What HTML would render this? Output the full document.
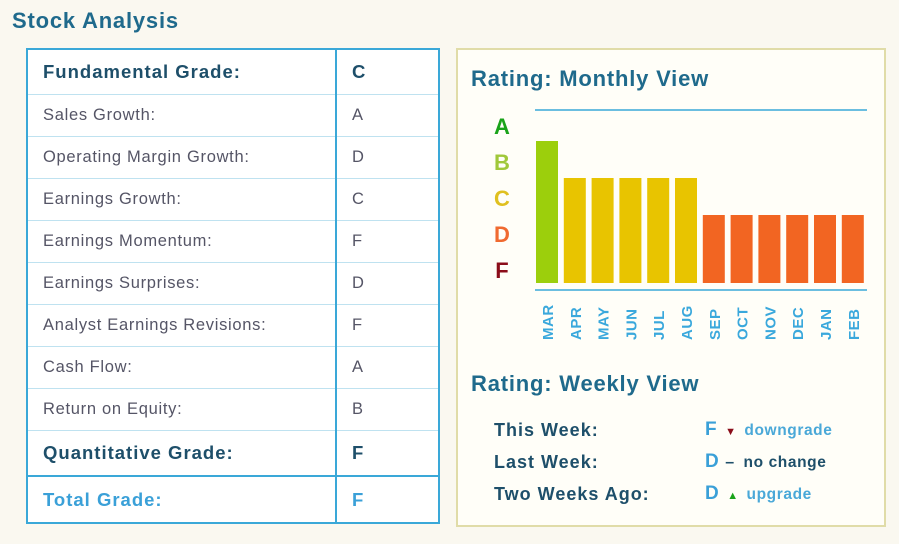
<!DOCTYPE html>
<html><head><meta charset="utf-8"><style>
body{margin:0;width:899px;height:544px;background:#faf8f0;font-family:"Liberation Sans",sans-serif;position:relative;overflow:hidden}
.abs{position:absolute}
#title{left:12px;top:8px;font-size:22px;font-weight:bold;color:#1f6a8c;letter-spacing:0.8px}
table{position:absolute;left:26px;top:48px;width:414px;border-collapse:collapse;background:#fff;border:2px solid #3aa8d8}
td{border-top:1px solid #bfe2f0;padding:0 0 0 15px;font-size:16.5px;color:#556;height:41px;letter-spacing:0.7px}
td.g{border-left:2px solid #3aa8d8;width:86px;padding-left:15px}
tr.b td{font-weight:bold;color:#1e4f6a;font-size:18.5px;height:44px;letter-spacing:1px}
tr.t td{font-weight:bold;color:#3aa0d8;font-size:18.5px;height:45px;border-top:2px solid #3aa8d8;letter-spacing:1px}
#panel{left:456px;top:48px;width:426px;height:475px;border:2px solid #e0dca8;background:#fffef8}
.h2{font-size:22px;font-weight:bold;color:#1f6a8c;letter-spacing:0.8px}
.wl{font-size:18px;font-weight:bold;color:#1e4f6a;letter-spacing:1px}
.wg{font-size:19px;font-weight:bold;color:#3aa0d8}
.wt{font-size:15.5px;font-weight:bold;letter-spacing:0.6px}
</style></head><body>
<div id="title" class="abs">Stock Analysis</div>
<table>
<tr class="b"><td>Fundamental Grade:</td><td class="g">C</td></tr>
<tr><td>Sales Growth:</td><td class="g">A</td></tr>
<tr><td>Operating Margin Growth:</td><td class="g">D</td></tr>
<tr><td>Earnings Growth:</td><td class="g">C</td></tr>
<tr><td>Earnings Momentum:</td><td class="g">F</td></tr>
<tr><td>Earnings Surprises:</td><td class="g">D</td></tr>
<tr><td>Analyst Earnings Revisions:</td><td class="g">F</td></tr>
<tr><td>Cash Flow:</td><td class="g">A</td></tr>
<tr><td>Return on Equity:</td><td class="g">B</td></tr>
<tr class="b"><td>Quantitative Grade:</td><td class="g">F</td></tr>
<tr class="t"><td>Total Grade:</td><td class="g">F</td></tr>
</table>
<div id="panel" class="abs"></div>
<div class="abs h2" style="left:471px;top:66px">Rating: Monthly View</div>
<svg class="abs" style="left:0;top:0" width="899" height="544" id="chart"></svg>
<div class="abs h2" style="left:471px;top:371px">Rating: Weekly View</div>
<div class="abs wl" style="left:494px;top:420px">This Week:</div>
<div class="abs wl" style="left:494px;top:452px">Last Week:</div>
<div class="abs wl" style="left:494px;top:484px">Two Weeks Ago:</div>
<div class="abs" style="left:705px;top:419px"><span class="wg">F</span> <span style="color:#8b0d1a;font-size:11px;margin:0 4px">▼</span> <span class="wt" style="color:#4aa8d8">downgrade</span></div>
<div class="abs" style="left:705px;top:451px"><span class="wg">D</span> <span style="color:#1e4f6a;font-weight:bold;margin:0 5px 0 2px">–</span> <span class="wt" style="color:#1e4f6a">no change</span></div>
<div class="abs" style="left:705px;top:483px"><span class="wg">D</span> <span style="color:#1aa31a;font-size:11px;margin:0 4px">▲</span> <span class="wt" style="color:#4aa8d8">upgrade</span></div>
<script>
const months=["MAR","APR","MAY","JUN","JUL","AUG","SEP","OCT","NOV","DEC","JAN","FEB"];
const grades=["B","C","C","C","C","C","D","D","D","D","D","D"];
const levels=["F","D","C","B","A"];
const levelColors=["#8b0d1a","#f06a30","#e0c020","#a0c83a","#1aa31a"];
const barColors={B:"#9ccf0c",C:"#e8c400",D:"#f26522"};
const svg=document.getElementById('chart');const NS="http://www.w3.org/2000/svg";
function yVal(v){return 252-37*v;}
function yLab(v){return 270-36*v;}
function xBar(i){return 536+27.8*i;}
const base=283,bw=22;
function mk(t,a){const e=document.createElementNS(NS,t);for(const k in a)e.setAttribute(k,a[k]);svg.appendChild(e);return e;}
let l=mk('line',{x1:535,x2:867,y1:110,y2:110,stroke:'#3aa8d8','stroke-width':1.5});


l=mk('line',{x1:535,x2:867,y1:290,y2:290,stroke:'#3aa8d8','stroke-width':1.5});


levels.forEach((g,v)=>{const t=mk('text',{x:502,y:yLab(v)+8,'text-anchor':'middle','font-size':22,'font-weight':'bold',fill:levelColors[v],'font-family':'Liberation Sans'});t.textContent=g;

});
months.forEach((m,i)=>{const v=levels.indexOf(grades[i]);const top=yVal(v);
const r=mk('rect',{x:xBar(i),y:top,width:bw,height:base-top,fill:barColors[grades[i]]});


const cx=xBar(i)+bw/2+6;
const t=mk('text',{x:cx,y:340,transform:`rotate(-90 ${cx} 340)`,'font-size':15,'font-weight':'bold',fill:'#3aa8dc','font-family':'Liberation Sans','letter-spacing':'0.5'});t.textContent=m;

});
</script>
</body></html>
